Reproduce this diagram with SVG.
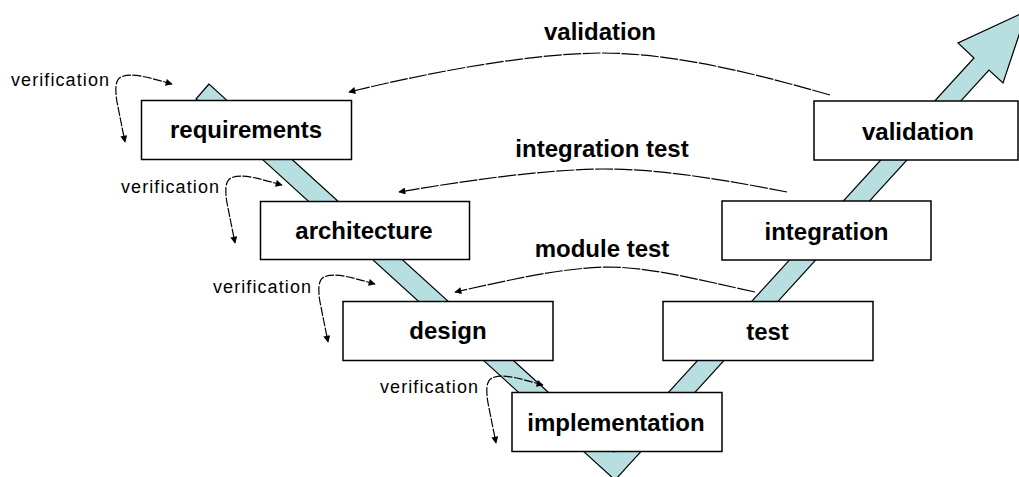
<svg xmlns="http://www.w3.org/2000/svg" width="1019" height="477" viewBox="0 0 1019 477">
<style>
.box{fill:#fff;stroke:#000;stroke-width:1.5}
.lbl{font-family:"Liberation Sans",Arial,sans-serif;font-weight:bold;font-size:24px;fill:#000;text-anchor:middle}
.ver{font-family:"Liberation Sans",Arial,sans-serif;font-size:18px;fill:#000}
.arc{fill:none;stroke:#000;stroke-width:1.2;stroke-dasharray:18 1.5}
.vc{fill:none;stroke:#000;stroke-width:1.2;stroke-dasharray:9 1.5}
</style>
<defs>
<marker id="ah" viewBox="0 0 10 10" refX="9" refY="5" markerWidth="8" markerHeight="7" markerUnits="userSpaceOnUse" orient="auto-start-reverse">
<path d="M0,0 L10,5 L0,10 Z" fill="#000"/>
</marker>
<path id="vcurve" d="M172,84 C150,78 132,72 121,77 C115,80 115,90 117,102 L125,142"/>
</defs>
<rect width="1019" height="477" fill="#fff"/>
<g id="vband">
<polygon points="209,84 196,99 615,480 989,70 1003,83 1027,11 958,43 974,58 614,452" fill="#b7dfe0" stroke="#000" stroke-width="1.2" stroke-linejoin="miter"/>
</g>
<g id="connectors">
<path class="arc" d="M830,95 C730,66 660,53 600,53 C530,54 440,70 349,92" marker-end="url(#ah)"/>
<path class="arc" d="M787,192 C700,175 650,169 602,169 C540,170 470,180 399,192" marker-end="url(#ah)"/>
<path class="arc" d="M755,292 C700,280 650,267 607,267 C560,268 510,280 455,292" marker-end="url(#ah)"/>
<use href="#vcurve" class="vc" marker-start="url(#ah)" marker-end="url(#ah)"/>
<use href="#vcurve" class="vc" transform="translate(110,101)" marker-start="url(#ah)" marker-end="url(#ah)"/>
<use href="#vcurve" class="vc" transform="translate(203,200)" marker-start="url(#ah)" marker-end="url(#ah)"/>
<use href="#vcurve" class="vc" transform="translate(371,301)" marker-start="url(#ah)" marker-end="url(#ah)"/>
</g>
<g id="labels">
<text class="lbl" x="600" y="40">validation</text>
<text class="lbl" x="602" y="157">integration test</text>
<text class="lbl" x="602" y="257">module test</text>
<text class="ver" x="11" y="86" textLength="98" lengthAdjust="spacing">verification</text>
<text class="ver" x="121" y="193" textLength="98" lengthAdjust="spacing">verification</text>
<text class="ver" x="213" y="293" textLength="98" lengthAdjust="spacing">verification</text>
<text class="ver" x="380" y="393" textLength="98" lengthAdjust="spacing">verification</text>
</g>
<g id="requirements"><rect class="box" x="141.5" y="100.5" width="210" height="59"/><text class="lbl" x="246" y="138">requirements</text></g>
<g id="architecture"><rect class="box" x="260.5" y="201.5" width="209" height="58"/><text class="lbl" x="364" y="239">architecture</text></g>
<g id="design"><rect class="box" x="343" y="301.5" width="210" height="59"/><text class="lbl" x="448" y="339">design</text></g>
<g id="implementation"><rect class="box" x="512" y="392.5" width="210" height="59"/><text class="lbl" x="616" y="431">implementation</text></g>
<g id="test"><rect class="box" x="663" y="301.5" width="210" height="59"/><text class="lbl" x="767.5" y="340">test</text></g>
<g id="integration"><rect class="box" x="722" y="201" width="209" height="59"/><text class="lbl" x="826.5" y="240">integration</text></g>
<g id="validation"><rect class="box" x="814" y="101" width="204" height="59"/><text class="lbl" x="918" y="140">validation</text></g>
</svg>
